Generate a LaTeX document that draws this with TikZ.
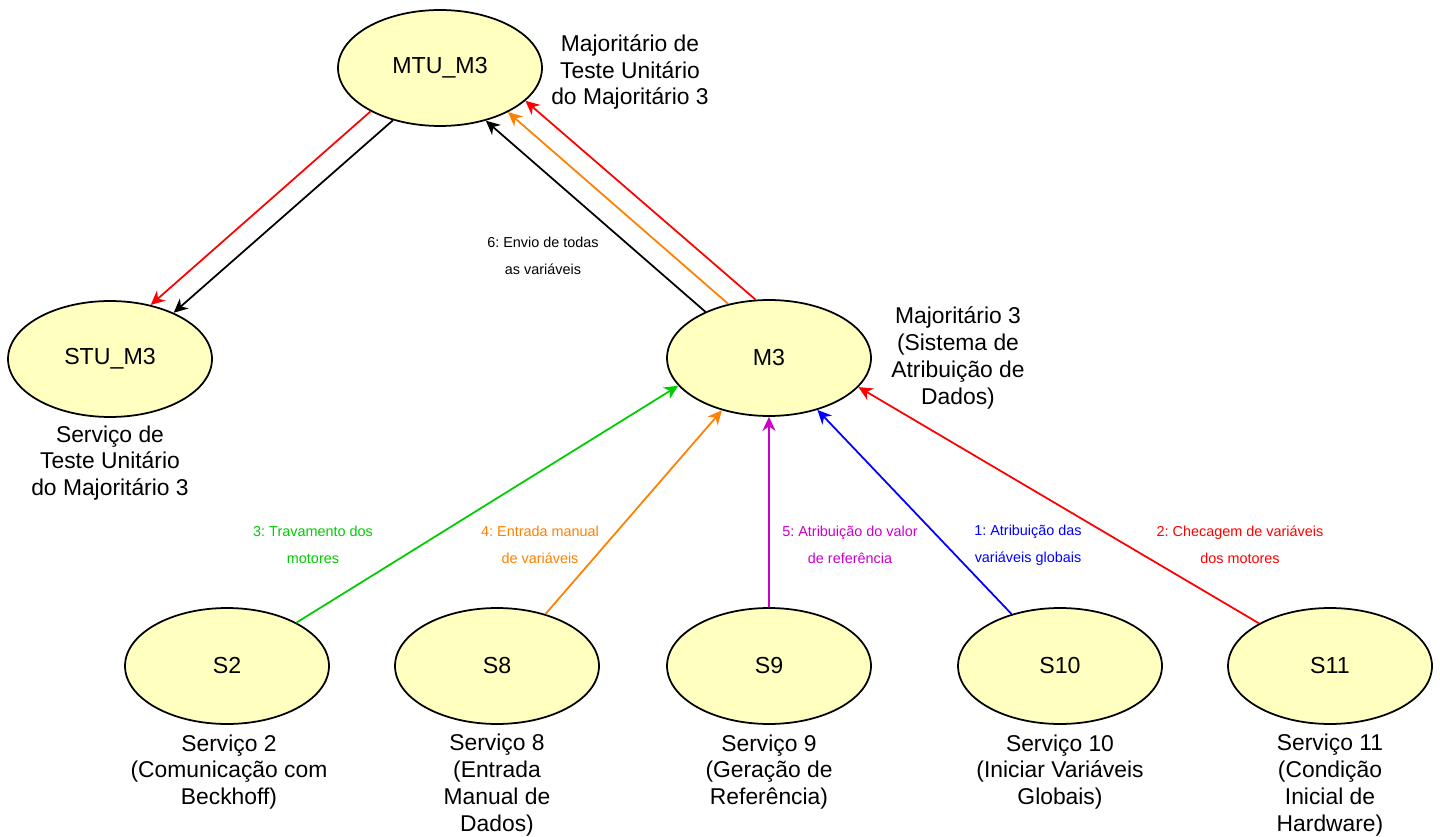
\documentclass[tikz,border=0pt]{standalone}
\usepackage{fontspec}
\setmainfont{Liberation Sans}
\usetikzlibrary{shapes.geometric,arrows.meta}
\definecolor{nodefill}{HTML}{FFFFC0}
\definecolor{cgreen}{HTML}{00CC00}
\definecolor{corange}{HTML}{FF8000}
\definecolor{cmagenta}{HTML}{CC00CC}
\definecolor{cblue}{HTML}{0000FF}
\definecolor{cred}{HTML}{FF0000}
\frenchspacing
\begin{document}
\begin{tikzpicture}[x=0.02cm,y=-0.02cm,
  svc/.style={ellipse, draw=black, line width=1pt, fill=nodefill,
    minimum width=4.08cm, minimum height=2.32cm, inner sep=0pt,
    font=\fontsize{13.2}{15.3}\selectfont},
  desc/.style={align=center, inner sep=0pt, font=\fontsize{13}{15.3}\selectfont},
  elabel/.style={align=center, inner sep=0pt, font=\fontsize{8.2}{15.3}\selectfont},
  link/.style={line width=1pt, -{Stealth[length=8pt,width=7.5pt,inset=2.5pt]}}]
\useasboundingbox (0,0) rectangle (1440,837);

% services and voters
\node[svc] (MTU) at (440,68) {MTU\_M3};
\node[svc] (STU) at (110,359) {STU\_M3};
\node[svc] (M3)  at (769,358) {M3};
\node[svc] (S2)  at (227,666) {S2};
\node[svc] (S8)  at (497,666) {S8};
\node[svc] (S9)  at (769,666) {S9};
\node[svc] (S10) at (1060,666) {S10};
\node[svc] (S11) at (1330,666) {S11};

% descriptions
\node[desc] (dMTU) at (630,72) {Majoritário de\\Teste Unitário\\do Majoritário 3};
\node[desc] (dSTU) at (110,463) {Serviço de\\Teste Unitário\\do Majoritário 3};
\node[desc] (dM3)  at (958,358) {Majoritário 3\\(Sistema de\\Atribuição de\\Dados)};
\node[desc] (dS2)  at (229,772) {Serviço 2\\(Comunicação com\\Beckhoff)};
\node[desc] (dS8)  at (497,785) {Serviço 8\\(Entrada\\Manual de\\Dados)};
\node[desc] (dS9)  at (769,772) {Serviço 9\\(Geração de\\Referência)};
\node[desc] (dS10) at (1060,772) {Serviço 10\\(Iniciar Variáveis\\Globais)};
\node[desc] (dS11) at (1330,785) {Serviço 11\\(Condição\\Inicial de\\Hardware)};

% services feeding the voter
\draw[link, cgreen]   (S2.32.5)  -- (M3.197.2);
\draw[link, corange]  (S8.47.8)  -- (M3.228.6);
\draw[link, cmagenta] (S9.90)    -- (M3.270);
\draw[link, cblue]    (S10.133.8) -- (M3.313.9);
\draw[link, cred]     (S11.149.2) -- (M3.342.6);

% voter to unit test voter
\draw[link, black]   (M3.144.3) -- (MTU.311.7);
\draw[link, corange] (M3.127.4) -- (MTU.327.3);
\draw[link, cred]    (M3.103.6) -- (MTU.339.1);

% unit test voter to unit test service
\draw[link, cred]  (MTU.212.7) -- (STU.53.1);
\draw[link, black] (MTU.228.4) -- (STU.36.7);

% connector labels
\node[elabel] (l6) at (543,256) {6: Envio de todas\\as variáveis};
\node[elabel, text=cgreen]   (l3) at (313,545) {3: Travamento dos\\motores};
\node[elabel, text=corange]  (l4) at (540,545) {4: Entrada manual\\de variáveis};
\node[elabel, text=cmagenta] (l5) at (850,545) {5: Atribuição do valor\\de referência};
\node[elabel, text=cblue]    (l1) at (1028,545) {1: Atribuição das\\variáveis globais};
\node[elabel, text=cred]     (l2) at (1240,545) {2: Checagem de variáveis\\dos motores};
\end{tikzpicture}
\end{document}
